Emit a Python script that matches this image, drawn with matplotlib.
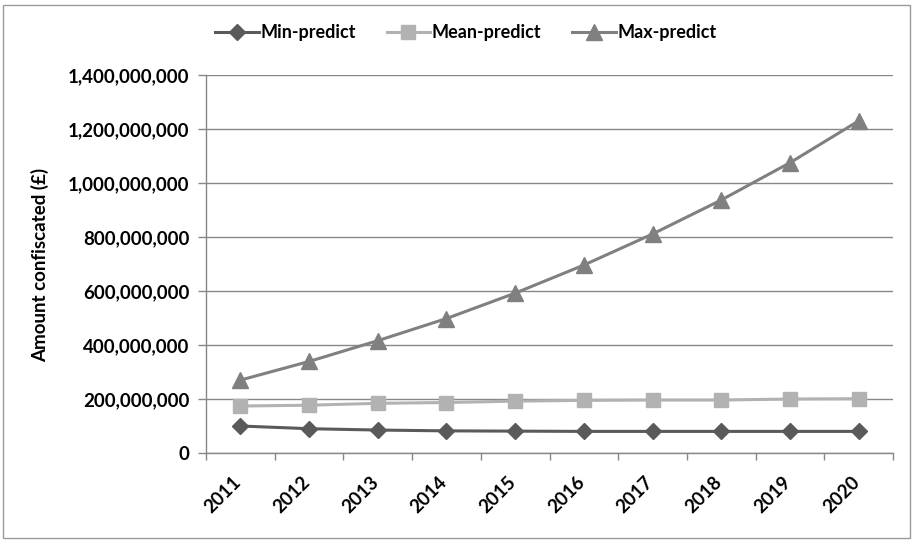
import matplotlib
matplotlib.use("Agg")
import matplotlib.pyplot as plt
import matplotlib.transforms as mtransforms
from matplotlib.patches import Rectangle
from matplotlib.ticker import FuncFormatter, FixedLocator

years = ["2011", "2012", "2013", "2014", "2015", "2016", "2017", "2018", "2019", "2020"]
min_predict = [100e6, 90e6, 85e6, 82e6, 81e6, 80e6, 80e6, 80e6, 80e6, 80e6]
mean_predict = [174e6, 177e6, 184e6, 187e6, 192e6, 195e6, 196e6, 196e6, 200e6, 201e6]
max_predict = [270e6, 339e6, 416e6, 498e6, 592e6, 696e6, 811e6, 937e6, 1075e6, 1230e6]

plt.rcParams['font.family'] = ['Lato', 'DejaVu Sans']

fig = plt.figure(figsize=(9.14, 5.43), dpi=100)
ax = fig.add_axes([206/914, 1-453/543, (893-206)/914, (453-75)/543])

x = list(range(len(years)))
lw = 2.2
ax.plot(x, min_predict, color='#5a5a5a', lw=lw, marker='D', ms=8, label='Min-predict', zorder=3)
ax.plot(x, mean_predict, color='#b2b2b2', lw=lw, marker='s', ms=10, label='Mean-predict', zorder=3)
ax.plot(x, max_predict, color='#808080', lw=lw, marker='^', ms=11, label='Max-predict', zorder=3)

ax.set_xlim(-0.5, len(years) - 0.5)
ax.set_ylim(0, 1.4e9)
ax.set_yticks([i * 200e6 for i in range(8)])
ax.yaxis.set_major_formatter(FuncFormatter(lambda v, p: f"{int(v):,}"))
ax.grid(axis='y', color='#878787', lw=1)
ax.set_axisbelow(True)

ax.set_xticks(x)
ax.set_xticklabels(years, rotation=45, ha='right', va='center', rotation_mode='anchor')
ax.xaxis.set_minor_locator(FixedLocator([i - 0.5 for i in range(len(years) + 1)]))
ax.tick_params(axis='x', which='major', length=0, pad=19, labelsize=13.5)
ax.tick_params(axis='x', which='minor', length=5, color='#878787', width=1)
ax.tick_params(axis='y', which='major', length=6, color='#878787', width=1, labelsize=13.5, pad=6)
offset = mtransforms.ScaledTranslation(-2/100, 0, fig.dpi_scale_trans)
for lab in ax.get_xticklabels():
    lab.set_fontweight('bold')
    lab.set_transform(lab.get_transform() + offset)
for lab in ax.get_yticklabels():
    lab.set_fontweight('bold')

for s in ['top', 'right']:
    ax.spines[s].set_visible(False)
for s in ['left', 'bottom']:
    ax.spines[s].set_color('#878787')
    ax.spines[s].set_linewidth(1)

ax.set_ylabel('Amount confiscated (£)', fontsize=13.5, fontweight='bold')
ax.yaxis.set_label_coords(-0.228, 0.497)

fig.legend(loc='center', bbox_to_anchor=(466/914, 1-33/543), ncol=3, frameon=False,
           prop={'size': 13, 'weight': 'bold'}, handlelength=2.4, columnspacing=1.7,
           handletextpad=0.1)

fig.patches.append(Rectangle((3/914, 5/543), 907/914, 533/543, transform=fig.transFigure,
                             fill=False, edgecolor='#9a9a9a', lw=1))

fig.savefig('out.png', dpi=100)
